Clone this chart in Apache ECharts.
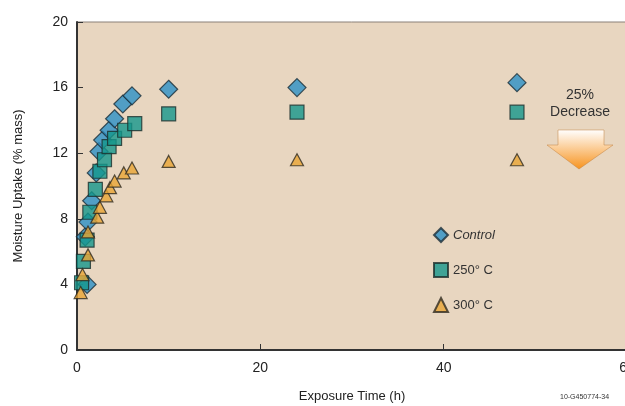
<!DOCTYPE html>
<html>
<head>
<meta charset="utf-8">
<script src="https://cdn.jsdelivr.net/npm/echarts@6/dist/echarts.min.js"></script>
<style>html,body{margin:0;padding:0;background:#fff}#c{width:625px;height:406px}</style>
</head>
<body>
<div id="c"></div>
<script>
// Data (exposure time h, moisture uptake % mass)
const controlT = [1.1, 0.9, 1.2, 1.6, 2.1, 2.4, 2.8, 3.5, 4.1, 5.0, 6.0, 10, 24, 48];
const controlV = [4.0, 6.9, 7.8, 9.1, 10.8, 12.1, 12.8, 13.4, 14.1, 15.0, 15.5, 15.9, 16.0, 16.3];
const c250T = [0.5, 0.7, 1.1, 1.4, 2.0, 2.5, 3.0, 3.5, 4.1, 5.2, 6.3, 10, 24, 48];
const c250V = [4.1, 5.4, 6.7, 8.4, 9.8, 10.9, 11.6, 12.4, 12.9, 13.4, 13.8, 14.4, 14.5, 14.5];
const c300T = [0.4, 0.6, 1.2, 1.2, 2.2, 2.5, 3.2, 3.6, 4.1, 5.1, 6.0, 10, 24, 48];
const c300V = [3.5, 4.6, 5.8, 7.2, 8.1, 8.7, 9.4, 9.9, 10.3, 10.8, 11.1, 11.5, 11.6, 11.6];
const seriesNames = ['Control', '250° C', '300° C'];
const xTicks = [0, 20, 40, 60];
const yTicks = [0, 4, 8, 12, 16, 20];

const pairs = (t, v) => t.map((x, i) => [x, v[i]]);
const font = 'Liberation Sans, Arial, sans-serif';
const chart = echarts.init(document.getElementById('c'));
chart.setOption({
  animation: false,
  backgroundColor: '#ffffff',
  grid: {left: 77, top: 22, width: 550, height: 328, show: true, outerBoundsMode: 'none', containLabel: false,
         backgroundColor: '#e8d6c0', borderColor: '#8a8078', borderWidth: 1},
  xAxis: {type: 'value', min: xTicks[0], max: xTicks[xTicks.length-1], interval: 20,
    name: 'Exposure Time (h)', nameLocation: 'middle', nameGap: 40,
    nameTextStyle: {fontFamily: font, fontSize: 13, color: '#222'},
    axisLine: {lineStyle: {color: '#333', width: 2}},
    axisTick: {inside: true, length: 6, lineStyle: {color: '#333'}},
    axisLabel: {fontFamily: font, fontSize: 14, color: '#222', margin: 11},
    splitLine: {show: false}},
  yAxis: {type: 'value', min: yTicks[0], max: yTicks[yTicks.length-1], interval: 4,
    name: 'Moisture Uptake (% mass)', nameLocation: 'middle', nameGap: 52,
    nameTextStyle: {fontFamily: font, fontSize: 13, color: '#222'},
    axisLine: {lineStyle: {color: '#333', width: 2}},
    axisTick: {inside: true, length: 6, lineStyle: {color: '#333'}},
    axisLabel: {fontFamily: font, fontSize: 14, color: '#222', margin: 9},
    splitLine: {show: false}},
  legend: {orient: 'vertical', left: 428, top: 222, itemGap: 19, itemWidth: 14, itemHeight: 14,
    textStyle: {fontFamily: font, fontSize: 13, color: '#333',
      rich: {i: {fontStyle: 'italic', fontFamily: font, fontSize: 13, color: '#333'}}},
    formatter: n => n === 'Control' ? '{i|' + n + '}' : n,
    data: seriesNames},
  series: [
    {name: seriesNames[0], type: 'scatter', symbol: 'diamond', symbolSize: [18, 18],
     itemStyle: {color: '#2b90c6', borderColor: '#1c2e38', borderWidth: 1.2},
     data: pairs(controlT, controlV), z: 3},
    {name: seriesNames[1], type: 'scatter', symbol: 'rect', symbolSize: [14, 14],
     itemStyle: {color: '#14968b', borderColor: '#1c2e2c', borderWidth: 1.2},
     data: pairs(c250T, c250V), z: 4},
    {name: seriesNames[2], type: 'scatter', symbol: 'triangle', symbolSize: [13, 12],
     itemStyle: {color: '#e9a534', borderColor: '#2e2a20', borderWidth: 1.2},
     data: pairs(c300T, c300V), z: 5}
  ],
  graphic: [
    {type: 'text', x: 580, y: 88, style: {text: '25%', fontFamily: font, fontSize: 14, fill: '#333', align: 'center'}},
    {type: 'text', x: 580, y: 105, style: {text: 'Decrease', fontFamily: font, fontSize: 14, fill: '#333', align: 'center'}},
    {type: 'polygon', shape: {points: [[558,130],[604,130],[604,145],[613,145],[579,169],[547,145],[558,145]]},
     style: {fill: new echarts.graphic.LinearGradient(0,0,0,1,[{offset:0,color:'#ffffff'},{offset:1,color:'#f7931e'}]),
             stroke: '#c08040', lineWidth: 0.5}},
    {type: 'text', x: 560, y: 394, style: {text: '10-G450774-34', fontFamily: font, fontSize: 7, fill: '#333'}}
  ]
});
</script>
</body>
</html>
